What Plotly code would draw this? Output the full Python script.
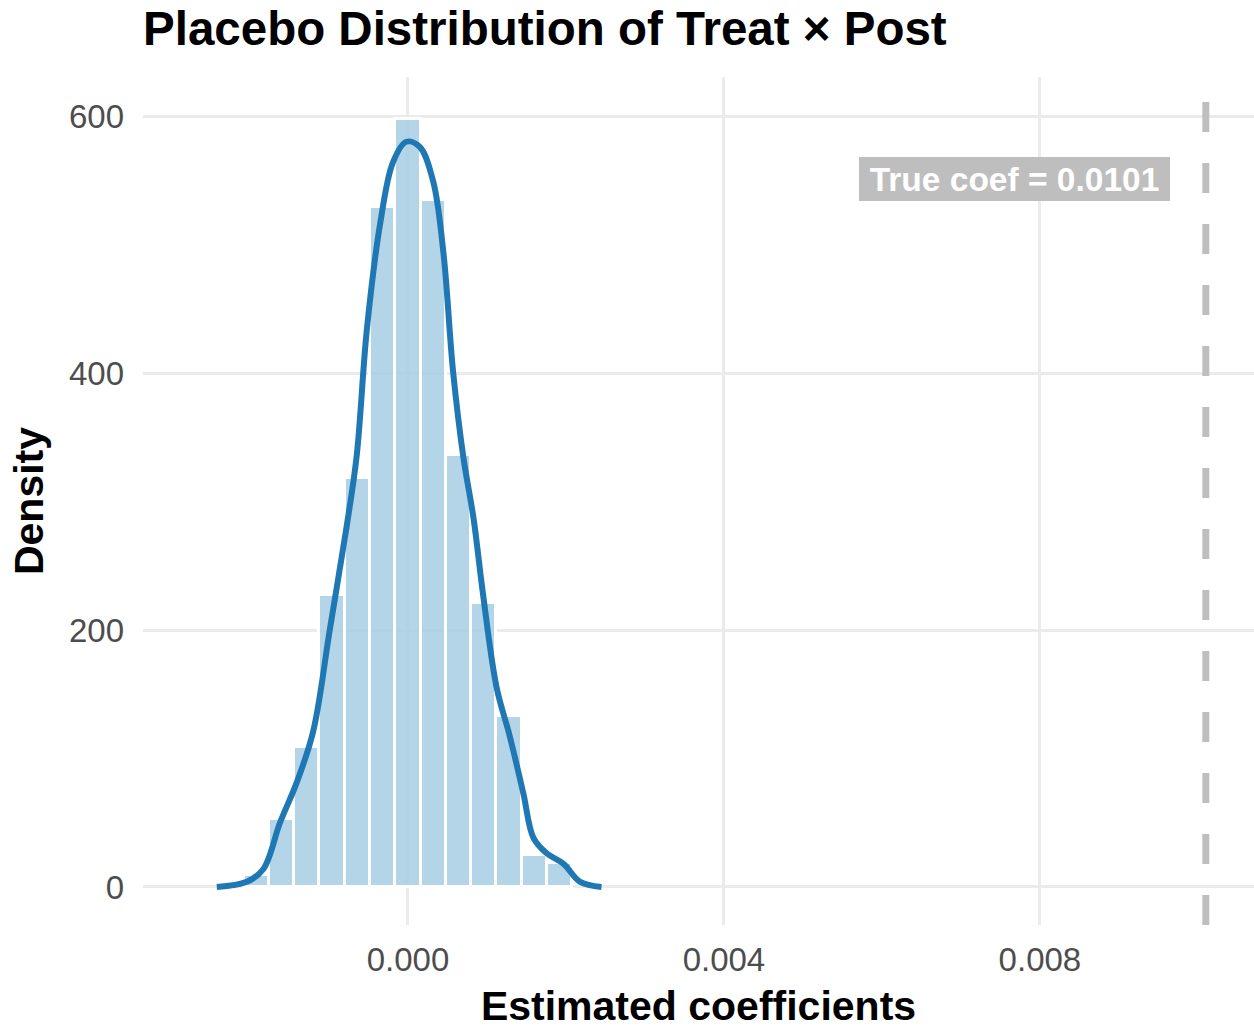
import plotly.graph_objects as go

# Histogram (density scale)
bin_centers = [-0.00192, -0.00160, -0.00128, -0.00096, -0.00064, -0.00032, 0.0,
               0.00032, 0.00064, 0.00096, 0.00128, 0.00160, 0.00192]
bin_density = [9, 53, 109, 227, 318, 529, 598, 535, 336, 221, 133, 25, 19]
bin_width = 0.00032

# Kernel density curve
kde_x = [-0.00242, -0.00204, -0.00183, -0.00162, -0.00141, -0.00120, -0.00099, -0.00078,
         -0.00065, -0.00052, -0.00035, -0.00019, -0.00002, 0.00015, 0.00032, 0.00045,
         0.00057, 0.00070, 0.00083, 0.00095, 0.00112, 0.00129, 0.00146, 0.00159,
         0.00176, 0.00197, 0.00218, 0.00245]
kde_y = [0, 4, 14, 50, 81, 121, 200, 279, 335, 434, 517, 564, 580, 576, 549, 493,
         402, 335, 287, 228, 156, 117, 73, 38, 26, 18, 4, 0]

true_coef = 0.0101
x_ticks = [0.0, 0.004, 0.008]
x_tick_labels = ["0.000", "0.004", "0.008"]
y_ticks = [0, 200, 400, 600]

FONT = "Liberation Sans, Arial, sans-serif"

fig = go.Figure()
fig.add_trace(go.Bar(
    x=bin_centers, y=bin_density, width=[bin_width] * len(bin_centers),
    marker=dict(color="rgba(166,206,227,0.85)", line=dict(color="white", width=3)),
    showlegend=False, hoverinfo="skip"))
fig.add_trace(go.Scatter(
    x=kde_x, y=kde_y, mode="lines", line=dict(color="#1f78b4", width=6, shape="spline"),
    showlegend=False))

fig.add_shape(type="line", x0=true_coef, x1=true_coef, y0=0, y1=1, xref="x", yref="paper",
              line=dict(color="#bebebe", width=7, dash="30px,31px"))

fig.add_annotation(x=true_coef, y=551, xref="x", yref="y", text="<b>True coef = 0.0101</b>",
                   showarrow=False, xanchor="right", yanchor="middle", xshift=-36,
                   width=301, height=34, align="center", valign="middle",
                   bgcolor="#bebebe", bordercolor="#bebebe", borderpad=4, borderwidth=1,
                   font=dict(family=FONT, size=33.5, color="white"))

fig.update_layout(
    width=1254, height=1029,
    margin=dict(l=143, r=0, t=77, b=104),
    plot_bgcolor="white", paper_bgcolor="white",
    bargap=0,
    title=dict(text="<b>Placebo Distribution of Treat × Post</b>", x=143/1254, xanchor="left",
               y=1 - 28/1029, yanchor="middle", yref="container",
               font=dict(family=FONT, size=47.5, color="black")),
    xaxis=dict(range=[-0.003354, 0.01071], tickvals=x_ticks, ticktext=x_tick_labels,
               showgrid=True, gridcolor="#ebebeb", gridwidth=2.5, zeroline=False,
               showline=False, ticks="", ticklabelstandoff=12,
               tickfont=dict(family=FONT, size=33, color="#4d4d4d"),
               title=dict(text="<b>Estimated coefficients</b>", standoff=16,
                          font=dict(family=FONT, size=41, color="black"))),
    yaxis=dict(range=[-29.6, 630.4], tickvals=y_ticks,
               showgrid=True, gridcolor="#ebebeb", gridwidth=2.5, zeroline=False,
               showline=False, ticks="", ticklabelstandoff=18,
               tickfont=dict(family=FONT, size=33, color="#4d4d4d"),
               title=dict(text="<b>Density</b>", standoff=12,
                          font=dict(family=FONT, size=41, color="black"))),
)

fig.write_html("out.html")
